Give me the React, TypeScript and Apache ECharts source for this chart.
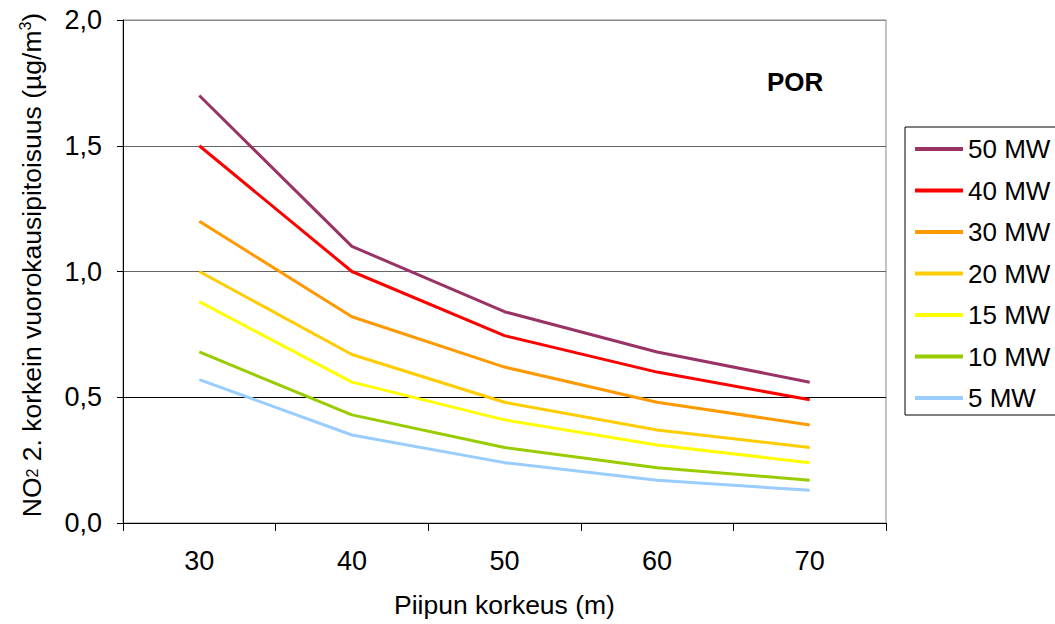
import React, { useEffect, useRef } from "react";
import * as echarts from "echarts";

const categories = ["30", "40", "50", "60", "70"];
const seriesNames = ["50 MW", "40 MW", "30 MW", "20 MW", "15 MW", "10 MW", "5 MW"];
const mw50 = [1.7, 1.1, 0.84, 0.68, 0.56];
const mw40 = [1.5, 1.0, 0.745, 0.6, 0.49];
const mw30 = [1.2, 0.82, 0.62, 0.48, 0.39];
const mw20 = [1.0, 0.67, 0.48, 0.37, 0.3];
const mw15 = [0.88, 0.56, 0.41, 0.31, 0.24];
const mw10 = [0.68, 0.43, 0.3, 0.22, 0.17];
const mw5 = [0.57, 0.35, 0.24, 0.17, 0.13];
const seriesValues = [mw50, mw40, mw30, mw20, mw15, mw10, mw5];
const colors = ["#993366", "#FF0000", "#FF9900", "#FFCC00", "#FFFF00", "#99CC00", "#99CCFF"];
const yTitle = "{a|NO}{s|2}{a| 2. korkein vuorokausipitoisuus (µg/m}{p|3}{a|)}";

const FONT = "'Liberation Sans', Arial, sans-serif";

export default function App() {
  const ref = useRef<HTMLDivElement>(null);
  useEffect(() => {
    document.body.style.margin = "0";
    const chart = echarts.init(ref.current!, null, { renderer: "svg" });
    chart.setOption({
      animation: false,
      textStyle: { fontFamily: FONT },
      grid: {
        left: 123,
        right: 169,
        top: 20,
        bottom: 101,
        show: true,
        borderColor: "#888",
        borderWidth: 1,
      },
      title: {
        text: "POR",
        left: 762,
        top: 64,
        textStyle: { fontFamily: FONT, fontSize: 26, fontWeight: "bold", color: "#000" },
      },
      graphic: [
        {
          type: "text",
          x: 32,
          y: 265,
          rotation: Math.PI / 2,
          style: {
            text: yTitle,
            align: "center",
            verticalAlign: "middle",
            fill: "#000",
            font: `26.5px ${FONT}`,
            rich: {
              a: { fontFamily: FONT, fontSize: 26.5, fill: "#000", lineHeight: 30 },
              s: { fontFamily: FONT, fontSize: 16, fill: "#000", verticalAlign: "middle", lineHeight: 30 },
              p: { fontFamily: FONT, fontSize: 16, fill: "#000", verticalAlign: "top", lineHeight: 30 },
            },
          },
        },
      ],
      legend: {
        orient: "vertical",
        left: 905,
        top: 127,
        data: seriesNames,
        icon: "rect",
        itemWidth: 48,
        itemHeight: 4,
        itemGap: 15.5,
        padding: [9, 60, 4, 10],
        borderColor: "#000",
        borderWidth: 1,
        textStyle: { fontFamily: FONT, fontSize: 26, color: "#000" },
      },
      xAxis: {
        type: "category",
        data: categories,
        boundaryGap: true,
        name: "Piipun korkeus (m)",
        nameLocation: "middle",
        nameGap: 68,
        nameTextStyle: { fontFamily: FONT, fontSize: 26.5, color: "#000" },
        axisLine: { lineStyle: { color: "#000", width: 1 } },
        axisTick: { show: true, interval: 0, length: 8, lineStyle: { color: "#000" } },
        axisLabel: { fontFamily: FONT, fontSize: 27, color: "#000", margin: 24 },
        splitLine: { show: false },
      },
      yAxis: {
        type: "value",
        min: 0,
        max: 2,
        interval: 0.5,
        axisLine: { show: true, lineStyle: { color: "#000", width: 1 } },
        axisTick: { show: true, length: 6, lineStyle: { color: "#000" } },
        axisLabel: {
          fontFamily: FONT,
          fontSize: 27,
          color: "#000",
          margin: 21,
          formatter: (v: number) => v.toFixed(1).replace(".", ","),
        },
        splitLine: {
          show: true,
          lineStyle: { color: ["#000", "#000", "#666", "#666", "#888"], width: 1 },
        },
      },
      series: seriesNames.map((name, i) => ({
        name,
        type: "line",
        data: seriesValues[i],
        symbol: "none",
        showSymbol: false,
        lineStyle: { color: colors[i], width: 3 },
        itemStyle: { color: colors[i] },
        z: 10 - i,
      })),
    });
    return () => chart.dispose();
  }, []);
  return <div ref={ref} style={{ width: 1055, height: 624 }} />;
}
